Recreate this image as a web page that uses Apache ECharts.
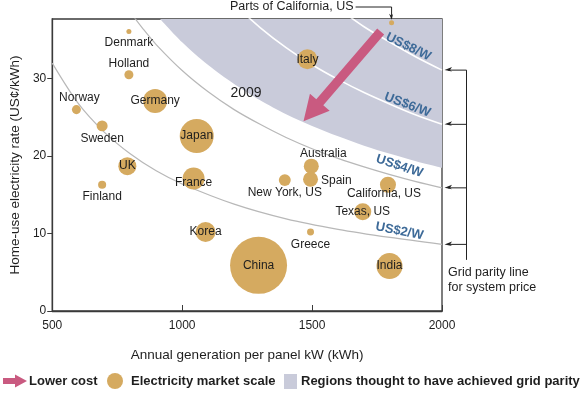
<!DOCTYPE html>
<html><head><meta charset="utf-8">
<script src="https://cdn.jsdelivr.net/npm/echarts@6/dist/echarts.min.js"></script>
<style>html,body{margin:0;padding:0;background:#fff}#c{width:585px;height:395px}</style>
</head><body><div id="c"></div>
<script>
// ---------- data ----------
const xTicks = [500, 1000, 1500, 2000];
const yTicks = [0, 10, 20, 30];
const regions = ['Denmark','Holland','Norway','Sweden','Germany','Japan','UK','Finland','France','Korea','China','Greece','New York, US','Australia','Spain','California, US','Texas, US','India','Italy','Parts of California, US'];
const generation = [795, 795, 593, 692, 896, 1056, 789, 692, 1044, 1090, 1294, 1494, 1395, 1497, 1494, 1792, 1695, 1798, 1482, 1806];
const rate       = [36.1, 30.5, 26.0, 23.9, 27.1, 22.6, 18.7, 16.3, 17.1, 10.2, 5.9, 10.2, 16.9, 18.7, 17.0, 16.3, 12.8, 5.8, 32.5, 37.2];
const marketScale= [0.77, 2.5, 2.5, 3.7, 17.7, 35.6, 10.0, 2.0, 14.9, 12.3, 100, 1.5, 4.4, 6.9, 6.9, 7.9, 8.9, 20.8, 12.3, 0.77];

// grid parity lines (system price)
const parity2W = [[500,32.0],[600,26.8],[700,23.1],[800,20.3],[900,18.1],[1000,16.4],[1200,13.8],[1400,11.9],[1600,10.55],[1800,9.5],[2000,8.6]];
const parity4W = [[800,38.6],[850,36.4],[900,34.4],[1000,31.05],[1100,28.3],[1200,26.0],[1300,24.1],[1400,22.4],[1500,20.95],[1600,19.7],[1700,18.6],[1800,17.6],[1900,16.7],[2000,15.9]];
const parity6W = [[1200,39.6],[1300,36.6],[1400,34.0],[1500,31.8],[1600,29.9],[1700,28.2],[1800,26.7],[1900,25.3],[2000,24.1]];
const parity8W = [[1600,39.1],[1700,36.7],[1800,34.7],[1900,32.8],[2000,31.1]];
// boundary of regions thought to have achieved grid parity (2009)
const parityRegion = [[915,37.7],[1000,34.7],[1100,31.75],[1200,29.3],[1300,27.2],[1400,25.4],[1500,23.9],[1600,22.55],[1700,21.35],[1800,20.3],[1900,19.35],[2000,18.5]];

const curveLabels = ['US$8/W','US$6/W','US$4/W','US$2/W'];
const yMax = 37.7;

// ---------- annotation anchors (data coordinates) ----------
const arrowTail = [1764, 36.1];
const arrowTip = [1467, 24.5];
const yearLabel = {text: '2009', at: [1246, 28.1]};
const curveLabelAt = [[1870, 34.1, 26], [1867, 26.6, 21], [1836, 18.7, 18], [1836, 10.3, 11]];
const bracketBottom = 6.6;
const parityNoteAt = 4.0;

// ---------- styles ----------
const FF = '"Liberation Sans", Arial, Helvetica, sans-serif';
const GOLD = '#d5aa60';
const SHADE = '#c9cbda';
const PINK = '#c95a80';
const BLUE = '#3d6a98';
const INK = '#1e1e1e';
const AXIS = '#3a3a3a';

const labelPlacement = {
  'Denmark': {position:'bottom', distance:3},
  'Holland': {position:'top', distance:1},
  'Norway': {position:'top', distance:1, offset:[3,0]},
  'Sweden': {position:'bottom', distance:1},
  'Germany': {position:'inside'},
  'Japan': {position:'inside'},
  'UK': {position:'inside'},
  'Finland': {position:'bottom', distance:2},
  'France': {position:'inside', offset:[0,4]},
  'Korea': {position:'inside'},
  'China': {position:'inside'},
  'Greece': {position:'bottom', distance:3},
  'New York, US': {position:'bottom', distance:1},
  'Australia': {position:'top', distance:-1, offset:[12,0]},
  'Spain': {position:'right', distance:3, offset:[0,1]},
  'California, US': {position:'inside', offset:[-4,9]},
  'Texas, US': {position:'inside'},
  'India': {position:'inside'},
  'Italy': {position:'inside'},
  'Parts of California, US': {show:false}
};

const bubbles = regions.map((n, i) => ({
  name: n,
  value: [generation[i], rate[i], marketScale[i]],
  label: Object.assign({show: true}, labelPlacement[n])
}));

function curveSeries(data, color, width) {
  return {type:'line', data: data, symbol:'none', smooth:0.3, silent:true, z:3,
    lineStyle:{color: color, width: width}};
}

const chart = echarts.init(document.getElementById('c'), null, {renderer:'canvas'});

const option = {
  animation: false,
  textStyle: {fontFamily: FF},
  grid: {left:48, right:143, top:19, bottom:84, show:true, borderColor:AXIS, borderWidth:1.3, backgroundColor:'transparent'},
  xAxis: {
    type:'value', min:500, max:2000, interval:500,
    name:'Annual generation per panel kW (kWh)', nameLocation:'middle', nameGap:37,
    nameTextStyle:{fontSize:13.5, color:INK, fontFamily:FF},
    axisLine:{lineStyle:{color:AXIS, width:1.3}},
    axisTick:{inside:true, length:6, lineStyle:{color:AXIS}},
    axisLabel:{margin:9, fontSize:12, color:INK, fontFamily:FF, customValues:xTicks, formatter: v => String(v)},
    splitLine:{show:false}
  },
  yAxis: {
    type:'value', min:0, max:yMax, interval:10,
    name:'Home-use electricity rate (US¢/kWh)', nameLocation:'middle', nameGap:27,
    nameTextStyle:{fontSize:13.5, color:INK, fontFamily:FF},
    axisLine:{lineStyle:{color:AXIS, width:1.3}},
    axisTick:{length:5, lineStyle:{color:AXIS}, customValues:yTicks},
    axisLabel:{margin:6, fontSize:12, color:INK, fontFamily:FF, customValues:yTicks, formatter: v => String(v)},
    splitLine:{show:false}
  },
  series: [
    {type:'line', name:'Regions thought to have achieved grid parity', data: parityRegion, symbol:'none', smooth:0.3, silent:true, z:1,
      lineStyle:{opacity:0, width:0}, areaStyle:{color:SHADE, opacity:1, origin:'end'}},
    curveSeries(parity2W, '#b8b8b8', 1.2),
    curveSeries(parity4W, '#b8b8b8', 1.2),
    curveSeries(parity6W, '#ffffff', 1.6),
    curveSeries(parity8W, '#ffffff', 1.6),
    {type:'scatter', name:'Electricity market scale', data: bubbles, z:5,
      symbolSize: v => Math.sqrt(v[2]) * 5.7,
      itemStyle:{color:GOLD, opacity:1},
      label:{formatter:'{b}', color:INK, fontSize:12, fontFamily:FF}},
    {type:'custom', name:'annotations', data:[[1000,10]], z:10, silent:true, clip:false,
      renderItem: function(params, api) {
        const P = (x, y) => api.coord([x, y]);
        const ch = [];
        // lower-cost arrow
        const t = P(arrowTail[0], arrowTail[1]), h = P(arrowTip[0], arrowTip[1]);
        const dx = h[0]-t[0], dy = h[1]-t[1], L = Math.hypot(dx, dy);
        const ux = dx/L, uy = dy/L, nx = -uy, ny = ux;
        const w = 4.6, hw = 13, hl = 25;
        const bx = h[0]-ux*hl, by = h[1]-uy*hl;
        ch.push({type:'polygon', shape:{points:[
          [t[0]+nx*w, t[1]+ny*w], [bx+nx*w, by+ny*w], [bx+nx*hw, by+ny*hw], [h[0], h[1]],
          [bx-nx*hw, by-ny*hw], [bx-nx*w, by-ny*w], [t[0]-nx*w, t[1]-ny*w]]}, style:{fill:PINK}});
        // year
        const yp = P(yearLabel.at[0], yearLabel.at[1]);
        ch.push({type:'text', x:yp[0], y:yp[1], style:{text:yearLabel.text, fill:INK, fontSize:14, fontFamily:FF, align:'center', verticalAlign:'middle'}});
        // curve labels
        curveLabels.forEach((s, i) => {
          const c = curveLabelAt[i], p = P(c[0], c[1]);
          ch.push({type:'text', x:p[0], y:p[1], rotation:-c[2]*Math.PI/180,
            style:{text:s, fill:BLUE, fontSize:13, fontWeight:'bold', fontFamily:FF, align:'center', verticalAlign:'middle'}});
        });
        // bracket to curve ends
        const ends = [parity8W, parity6W, parity4W, parity2W].map(c => P(c[c.length-1][0], c[c.length-1][1]));
        const xr = ends[0][0], xb = xr + 24.5;
        ends.forEach(e => {
          ch.push({type:'line', shape:{x1:xr+6, y1:e[1], x2:xb, y2:e[1]}, style:{stroke:'#222', lineWidth:1}});
          ch.push({type:'polygon', shape:{points:[[xr+2.5, e[1]], [xr+10, e[1]-3], [xr+8, e[1]], [xr+10, e[1]+1.5]]}, style:{fill:'#222'}});
        });
        const bb = P(2000, bracketBottom)[1];
        ch.push({type:'line', shape:{x1:xb, y1:ends[0][1], x2:xb, y2:bb}, style:{stroke:'#222', lineWidth:1}});
        const np = P(2000, parityNoteAt);
        ch.push({type:'text', x:np[0]+6, y:np[1], style:{text:'Grid parity line\nfor system price', fill:INK, fontSize:12.5, lineHeight:15, fontFamily:FF, align:'left', verticalAlign:'middle'}});
        // parts of California leader
        const k = regions.indexOf('Parts of California, US');
        const d = P(generation[k], rate[k]);
        const top = P(generation[k], yMax)[1] - 12;
        ch.push({type:'polyline', shape:{points:[[d[0]-36, top], [d[0], top], [d[0], d[1]-4]]}, style:{stroke:'#222', lineWidth:1, fill:null}});
        ch.push({type:'polygon', shape:{points:[[d[0], d[1]-3], [d[0]-2.5, d[1]-9], [d[0], d[1]-7], [d[0]+1.5, d[1]-9]]}, style:{fill:'#222'}});
        ch.push({type:'text', x:d[0]-38, y:top, style:{text:'Parts of California, US', fill:INK, fontSize:12.5, fontFamily:FF, align:'right', verticalAlign:'middle'}});
        return {type:'group', children:ch};
      }
    }
  ],
  graphic: [
    {type:'polygon', shape:{points:[[3,378],[15,378],[15,374.5],[27,381],[15,387.5],[15,384],[3,384]]}, style:{fill:PINK}},
    {type:'text', x:29, y:381, style:{text:'Lower cost', fill:INK, fontSize:13, fontWeight:'bold', fontFamily:FF, verticalAlign:'middle'}},
    {type:'circle', shape:{cx:115, cy:381, r:8}, style:{fill:GOLD}},
    {type:'text', x:131, y:381, style:{text:'Electricity market scale', fill:INK, fontSize:13, fontWeight:'bold', fontFamily:FF, verticalAlign:'middle'}},
    {type:'rect', shape:{x:284, y:374, width:13, height:15}, style:{fill:SHADE}},
    {type:'text', x:301, y:381, style:{text:'Regions thought to have achieved grid parity', fill:INK, fontSize:13, fontWeight:'bold', fontFamily:FF, verticalAlign:'middle'}}
  ]
};
chart.setOption(option);
</script>
</body></html>
